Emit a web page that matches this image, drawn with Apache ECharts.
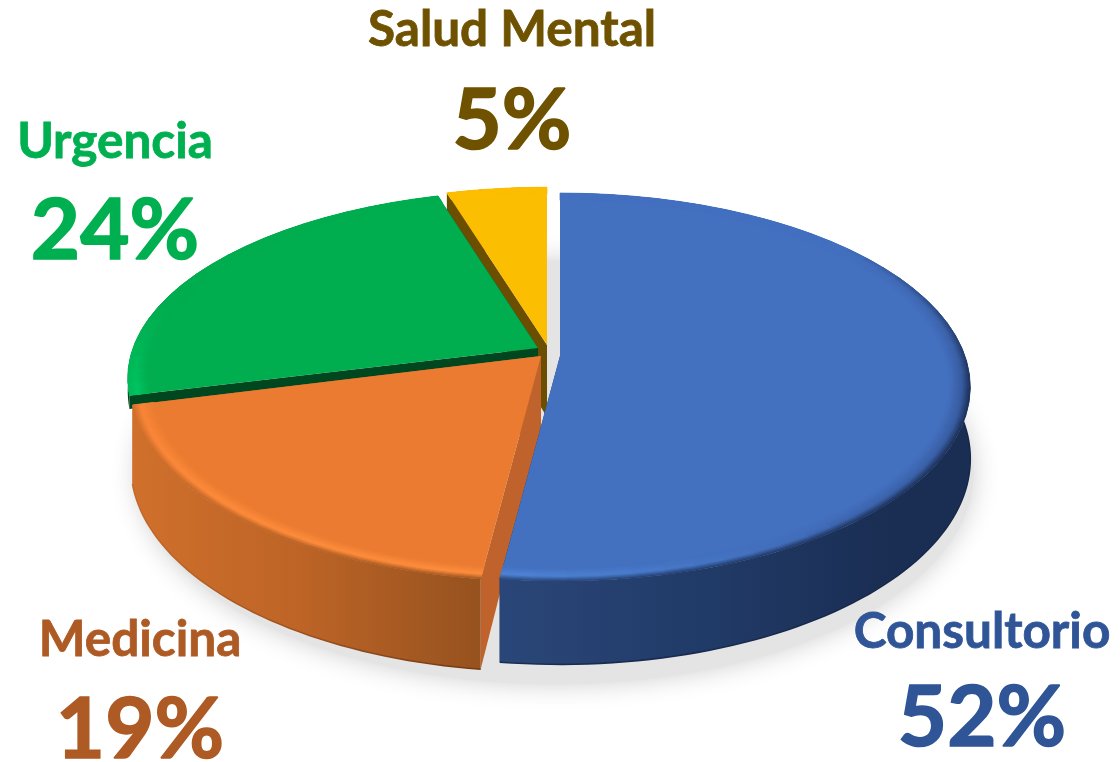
<!DOCTYPE html>
<html>
<head>
<meta charset="utf-8">
<title>Distribución por servicio</title>
<style>
  html, body { margin: 0; padding: 0; background: #fff; }
  #chart { width: 1120px; height: 762px; }
</style>
<script src="https://cdn.jsdelivr.net/npm/echarts@6/dist/echarts.min.js"></script>
</head>
<body>
<div id="chart"></div>
<script>
// values, percent of total
const categories = ['Consultorio', 'Medicina', 'Urgencia', 'Salud Mental'];
const shares = [52.0, 19.0, 24.4, 4.6];

// styles per slice, same order as categories
const topColors = ['#4370bf', '#ea7b30', '#00ad4f', '#fcbe00'];
const faceColors = ['#1f3864', '#c0622b', '#00471f', '#6b4e00'];
const textColors = ['#2f5597', '#ae5a24', '#00b050', '#6f5200'];
const wallStops = [
  [[503, '#2a4678'], [700, '#213b68'], [900, '#1a2d52']],
  [[130, '#d0702c'], [300, '#bd6426'], [480, '#96521f']],
  [[130, '#00471f'], [440, '#00471f']],
  [[440, '#6b4e00'], [550, '#6b4e00']]
];
const wallEdges = [['#1a2d52', '#17284a'], ['#c4692a', '#733a13'], null, null];
// rim highlight by angle: [deg, highlight, outer edge]
const bevelFrames = [
  [[0, '#4370bf', '#4370bf'], [50, '#4370bf', '#4370bf'], [72, '#4068b2', '#2c4b85'], [100, '#375a9e', '#1a2c50'], [140, '#3d65ae', '#1c3058'], [170, '#4a7bcd', '#223c6b'], [188, '#5085d8', '#294677']],
  [[187, '#ff8e3e', '#99531f'], [225, '#ff8c3c', '#bd6426'], [256, '#f98538', '#d0702c']],
  [[255, '#00c763', '#00b858'], [268, '#00b858', '#00b858'], [285, '#00ad4f', '#00ad4f'], [344, '#00ad4f', '#00ad4f']],
  [[343, '#fcbe00', '#fcbe00'], [360, '#fcbe00', '#fcbe00']]
];

// apex, squash and thickness of each exploded slice
const sliceGeom = [
  { cx: 560, cy: 356, ry: 189, depth: 70 },
  { cx: 541, cy: 356, ry: 189, depth: 76 },
  { cx: 538, cy: 348, ry: 183, depth: 13 },
  { cx: 547, cy: 345, ry: 183, depth: 72 }
];
const labelPos = [
  { x: 982, name: 632, pct: 719 },
  { x: 140, name: 640, pct: 731 },
  { x: 115, name: 142, pct: 232 },
  { x: 512, name: 30, pct: 122 }
];
const NAME_FONT = 49.5;
const PCT_FONT = 85;

// perspective disc
const RX = 405, PERSP = 0.16;
const BANDS = 12, BAND_W = 0.0042;

function project(g, deg, r, drop) {
  const a = deg * Math.PI / 180;
  const X = r * Math.sin(a), Y = -r * Math.cos(a);
  const f = 1 / (1 - PERSP * Y);
  return [g.cx + RX * X * f, g.cy + g.ry * Y * f + drop * f];
}

function arc(g, from, to, r, drop) {
  const n = Math.max(2, Math.ceil((to - from) / 1.5));
  const pts = [];
  for (let i = 0; i <= n; i++) pts.push(project(g, from + (to - from) * i / n, r, drop));
  return pts;
}

function mix(c1, c2, t) {
  const a = parseInt(c1.slice(1), 16), b = parseInt(c2.slice(1), 16);
  const ch = s => Math.round(((a >> s) & 255) + (((b >> s) & 255) - ((a >> s) & 255)) * t);
  return 'rgb(' + ch(16) + ',' + ch(8) + ',' + ch(0) + ')';
}
function toHex(rgb) {
  const m = rgb.match(/\d+/g).map(Number);
  return '#' + ((1 << 24) + (m[0] << 16) + (m[1] << 8) + m[2]).toString(16).slice(1);
}

function frameAt(frames, deg) {
  if (deg <= frames[0][0]) return frames[0];
  for (let i = 1; i < frames.length; i++) {
    if (deg <= frames[i][0]) {
      const p = frames[i - 1], q = frames[i];
      const t = (deg - p[0]) / (q[0] - p[0]);
      return [deg, toHex(mix(p[1], q[1], t)), toHex(mix(p[2], q[2], t))];
    }
  }
  return frames[frames.length - 1];
}

function poly(points, fill, stroke) {
  return {
    type: 'polygon',
    shape: { points: points },
    style: { fill: fill, stroke: stroke || null, lineWidth: stroke ? 0.8 : 0 },
    silent: true
  };
}

function wallFill(i) {
  const stops = wallStops[i];
  const x0 = stops[0][0], x1 = stops[stops.length - 1][0];
  return {
    type: 'linear', global: true, x: x0, y: 0, x2: x1, y2: 0,
    colorStops: stops.map(s => ({ offset: (s[0] - x0) / (x1 - x0), color: s[1] }))
  };
}

function edgeStroke(i) {
  const stops = wallStops[i];
  return {
    type: 'linear', global: true, x: stops[0][0], y: 0, x2: stops[stops.length - 1][0], y2: 0,
    colorStops: [{ offset: 0, color: wallEdges[i][0] }, { offset: 1, color: wallEdges[i][1] }]
  };
}

function renderSlice(params, api) {
  const from = api.value(0), to = api.value(1), i = api.value(2);
  const g = sliceGeom[i];
  const apex = project(g, 0, 0, 0), apexLow = project(g, 0, 0, g.depth);
  const children = [];

  // cut faces
  [from, to].forEach(function (deg) {
    children.push(poly([apex, project(g, deg, 1, 0), project(g, deg, 1, g.depth), apexLow], faceColors[i]));
  });

  // outer wall
  const upper = arc(g, from, to, 1, 0), lower = arc(g, from, to, 1, g.depth);
  children.push(poly(upper.concat(lower.slice().reverse()), wallFill(i)));
  if (wallEdges[i]) {
    children.push({
      type: 'polyline', shape: { points: lower },
      style: { fill: null, stroke: edgeStroke(i), lineWidth: 1.6 }, silent: true
    });
  }

  // flat top
  children.push(poly([apex].concat(upper), topColors[i]));

  // bevel round the rim, outermost band first
  const step = (to - from) / Math.ceil((to - from) / 4);
  for (let k = 0; k < BANDS; k++) {
    const r1 = 1 - k * BAND_W, r2 = r1 - BAND_W;
    const u = 1 - (k + 0.5) / BANDS;
    for (let d = from; d < to - 0.01; d += step) {
      const fr = frameAt(bevelFrames[i], d + step / 2);
      let color;
      if (u < 0.6) color = mix(topColors[i], fr[1], u / 0.6);
      else color = mix(fr[1], fr[2], (u - 0.6) / 0.4);
      children.push(poly([
        project(g, d, r1, 0), project(g, d + step, r1, 0),
        project(g, d + step, r2, 0), project(g, d, r2, 0)
      ], color, color));
    }
  }
  return { type: 'group', children: children };
}

function renderShadow() {
  const g = { cx: 555, cy: 356, ry: 189 };
  return {
    type: 'polygon',
    shape: { points: arc(g, 0, 360, 1.02, 82) },
    style: { fill: '#e4e4e4', shadowBlur: 26, shadowColor: '#cfcfcf' },
    silent: true
  };
}

function renderLabel(params, api) {
  const i = api.value(0);
  const p = labelPos[i];
  const text = (str, y, size, weight) => ({
    type: 'text', silent: true,
    style: {
      x: p.x, y: y, text: str, fill: textColors[i],
      stroke: textColors[i], lineWidth: weight,
      font: 'bold ' + size + 'px Lato, "Open Sans", sans-serif',
      textAlign: 'center', textVerticalAlign: 'middle'
    }
  });
  return {
    type: 'group',
    children: [
      text(categories[i], p.name, NAME_FONT, 0.8),
      text(Math.round(shares[i]) + '%', p.pct, PCT_FONT, 1.6)
    ]
  };
}

// start and end angle of each slice, clockwise from twelve o'clock
const total = shares.reduce((a, b) => a + b, 0);
let acc = 0;
const sliceRows = shares.map(function (v, i) {
  const row = [acc / total * 360, (acc + v) / total * 360, i];
  acc += v;
  return row;
});

const chart = echarts.init(document.getElementById('chart'));
chart.setOption({
  animation: false,
  backgroundColor: '#ffffff',
  series: [
    { type: 'custom', coordinateSystem: 'none', z: 1, silent: true, renderItem: renderShadow, data: [[0]] },
    // back slices go first so the front ones paint over them
    { type: 'custom', coordinateSystem: 'none', z: 2, silent: true, renderItem: renderSlice, data: sliceRows.slice().reverse() },
    { type: 'custom', coordinateSystem: 'none', z: 3, silent: true, renderItem: renderLabel, data: categories.map((c, i) => [i]) }
  ]
});
</script>
</body>
</html>
